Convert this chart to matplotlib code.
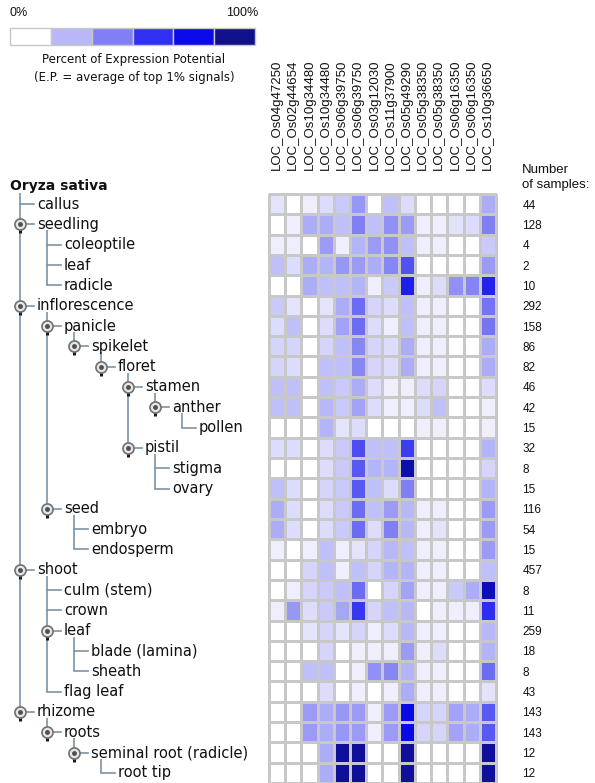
import numpy as np
import matplotlib.pyplot as plt
from matplotlib.colors import LinearSegmentedColormap

# genes (columns)
genes = ["LOC_Os04g47250", "LOC_Os02g44654", "LOC_Os10g34480", "LOC_Os10g34480",
         "LOC_Os06g39750", "LOC_Os06g39750", "LOC_Os03g12030", "LOC_Os11g37900",
         "LOC_Os05g49290", "LOC_Os05g38350", "LOC_Os05g38350", "LOC_Os06g16350",
         "LOC_Os06g16350", "LOC_Os10g36650"]

# anatomy tree: label, depth
tissues = ["callus", "seedling", "coleoptile", "leaf", "radicle", "inflorescence",
           "panicle", "spikelet", "floret", "stamen", "anther", "pollen", "pistil",
           "stigma", "ovary", "seed", "embryo", "endosperm", "shoot", "culm (stem)",
           "crown", "leaf", "blade (lamina)", "sheath", "flag leaf", "rhizome",
           "roots", "seminal root (radicle)", "root tip"]
depths = [1, 1, 2, 2, 2, 1, 2, 3, 4, 5, 6, 7, 5, 6, 6, 2, 3, 3, 1, 2, 2, 2, 3, 3, 2,
          1, 2, 3, 4]
n_samples = [44, 128, 4, 2, 10, 292, 158, 86, 82, 46, 42, 15, 32, 8, 15, 116, 54, 15,
             457, 8, 11, 259, 18, 8, 43, 143, 143, 12, 12]

# percent of expression potential
expression = [
    [8, 0, 5, 10, 15, 35, 0, 18, 10, 0, 0, 0, 0, 25],
    [0, 5, 25, 25, 18, 45, 18, 38, 33, 5, 5, 8, 10, 45],
    [5, 5, 0, 33, 5, 22, 33, 38, 18, 5, 5, 0, 0, 15],
    [18, 10, 25, 22, 35, 33, 25, 42, 57, 0, 0, 0, 0, 33],
    [0, 0, 25, 18, 18, 22, 5, 15, 72, 5, 10, 38, 43, 70],
    [15, 8, 0, 8, 25, 50, 12, 10, 18, 5, 5, 0, 0, 48],
    [10, 18, 0, 10, 30, 50, 10, 5, 18, 5, 5, 0, 0, 48],
    [12, 12, 0, 12, 18, 42, 12, 10, 25, 5, 5, 0, 0, 25],
    [12, 10, 0, 18, 18, 42, 12, 10, 25, 5, 5, 0, 0, 25],
    [18, 18, 0, 18, 15, 25, 10, 5, 5, 10, 12, 0, 0, 10],
    [18, 18, 0, 20, 15, 30, 10, 5, 5, 10, 18, 0, 0, 5],
    [0, 0, 0, 22, 8, 10, 0, 0, 0, 5, 5, 0, 0, 5],
    [10, 10, 0, 10, 15, 58, 18, 18, 62, 0, 0, 0, 0, 22],
    [0, 0, 0, 10, 15, 55, 22, 22, 93, 0, 0, 0, 0, 12],
    [18, 10, 0, 12, 15, 55, 18, 10, 45, 0, 0, 0, 0, 22],
    [25, 10, 0, 10, 15, 50, 18, 33, 20, 5, 5, 0, 0, 33],
    [25, 10, 0, 10, 15, 50, 10, 45, 20, 5, 8, 0, 0, 33],
    [5, 0, 5, 18, 5, 8, 12, 20, 18, 5, 5, 0, 0, 33],
    [0, 0, 12, 18, 5, 18, 12, 22, 22, 5, 5, 0, 0, 18],
    [0, 5, 12, 15, 18, 50, 0, 12, 30, 5, 5, 15, 25, 90],
    [5, 35, 10, 15, 28, 63, 12, 18, 20, 0, 5, 5, 5, 66],
    [0, 0, 8, 12, 8, 12, 5, 10, 20, 5, 5, 0, 0, 20],
    [0, 0, 0, 12, 0, 5, 5, 5, 33, 5, 10, 0, 0, 22],
    [0, 0, 18, 18, 0, 5, 38, 42, 22, 5, 5, 0, 0, 50],
    [0, 0, 0, 10, 0, 5, 0, 5, 25, 5, 5, 0, 0, 8],
    [0, 0, 33, 25, 35, 33, 5, 33, 80, 12, 12, 30, 25, 55],
    [0, 0, 33, 25, 35, 33, 5, 33, 80, 12, 12, 30, 25, 55],
    [0, 0, 0, 25, 97, 97, 0, 0, 97, 0, 0, 0, 0, 97],
    [0, 0, 0, 25, 97, 97, 0, 0, 97, 0, 0, 0, 0, 97],
]

legend_colors = ["#ffffff", "#b8b8f8", "#8080f4", "#3030f0", "#0a0ae8", "#10108c"]
cmap_stops = [0.0, 0.2, 0.45, 0.65, 0.8, 1.0]

W, H = 595, 783
cmap = LinearSegmentedColormap.from_list("ep", list(zip(cmap_stops, legend_colors)))

fig = plt.figure(figsize=(W / 100, H / 100), dpi=100)
fig.patch.set_facecolor("white")

# heatmap block
gx0, gx1, gy0 = 269, 496, 194
ax = fig.add_axes([gx0 / W, 0, (gx1 - gx0) / W, (H - gy0) / H])
data = np.array(expression)
ax.pcolormesh(data, cmap=cmap, vmin=0, vmax=100, edgecolors="#c8c8c8",
              linewidth=1.0, clip_on=False)
ax.set_xlim(0, len(genes))
ax.set_ylim(len(tissues), 0)
for s in ax.spines.values():
    s.set_visible(False)
ax.xaxis.tick_top()
ax.set_xticks(np.arange(len(genes)) + 0.5)
ax.set_xticklabels(genes, rotation=90, fontsize=9.5, family="Liberation Sans",
                   color="#111111")
ax.tick_params(axis="x", length=0, pad=17)
ax.yaxis.tick_right()
ax.set_yticks(np.arange(len(tissues)) + 0.5)
ax.set_yticklabels([str(n) for n in n_samples], fontsize=8.5,
                   family="Liberation Sans", color="#111111")
ax.tick_params(axis="y", length=0, pad=19)

# overlay in pixel coordinates for tree and legend
ov = fig.add_axes([0, 0, 1, 1], zorder=-1)
ov.set_xlim(0, W)
ov.set_ylim(H, 0)
ov.axis("off")

row_h = (H - gy0) / len(tissues)
row_y = [gy0 + (i + 0.5) * row_h for i in range(len(tissues))]
X0, STEP = 20, 27
line_c = "#7d93a6"

ov.text(10, gy0 - 8, "Oryza sativa", fontsize=10, fontweight="bold",
        family="DejaVu Sans", va="center", ha="left", color="#111111")
ov.text(522, 170, "Number", fontsize=9.5, family="Liberation Sans",
        va="center", ha="left", color="#111111")
ov.text(522, 185, "of samples:", fontsize=9.5, family="Liberation Sans",
        va="center", ha="left", color="#111111")

# vertical connectors: root then every parent
parents = [(-1, 0, gy0 - 1)] + [(i, depths[i], row_y[i] + 6) for i in range(len(tissues))]
for p, d, ystart in parents:
    last = None
    for j in range(p + 1, len(tissues)):
        if depths[j] <= d:
            break
        if depths[j] == d + 1:
            last = j
    if last is not None:
        x = X0 + STEP * d
        ov.plot([x, x], [ystart, row_y[last]], color=line_c, lw=1.2,
                solid_capstyle="butt")

for i, (name, d) in enumerate(zip(tissues, depths)):
    cx = X0 + STEP * (d - 1)
    y = row_y[i]
    has_kids = i + 1 < len(tissues) and depths[i + 1] > d
    if has_kids:
        ov.plot([cx + 4, cx + 14], [y, y], color=line_c, lw=1.2)
        ov.plot([cx, cx], [y + 2, y + 9], color="#1a1a1a", lw=2.2,
                solid_capstyle="butt")
        ov.plot(cx, y, "o", ms=8, mfc="#e6e6e6", mec="#707070", mew=1.2)
        ov.plot(cx, y, "o", ms=2.5, color="#505050")
    else:
        ov.plot([cx, cx + 14], [y, y], color=line_c, lw=1.2)
    ov.text(cx + 17, y, name, fontsize=10.5, family="DejaVu Sans", va="center",
            ha="left", color="#111111")

# colour legend
lx0, lx1, ly0, ly1 = 10, 255, 28, 45
bw = (lx1 - lx0) / len(legend_colors)
for k, c in enumerate(legend_colors):
    ov.add_patch(plt.Rectangle((lx0 + k * bw, ly0), bw, ly1 - ly0, facecolor=c,
                               edgecolor="#c8c8c8", lw=1))
ov.text(lx0, 13, "0%", fontsize=9, family="Liberation Sans", va="center",
        ha="left", color="#111111")
ov.text(lx1 + 3, 13, "100%", fontsize=9, family="Liberation Sans", va="center",
        ha="right", color="#111111")
ov.text(134, 59, "Percent of Expression Potential", fontsize=8.5,
        family="DejaVu Sans", va="center", ha="center", color="#111111")
ov.text(134, 77, "(E.P. = average of top 1% signals)", fontsize=8.5,
        family="DejaVu Sans", va="center", ha="center", color="#111111")

fig.savefig("out.png", dpi=100, facecolor="white")
